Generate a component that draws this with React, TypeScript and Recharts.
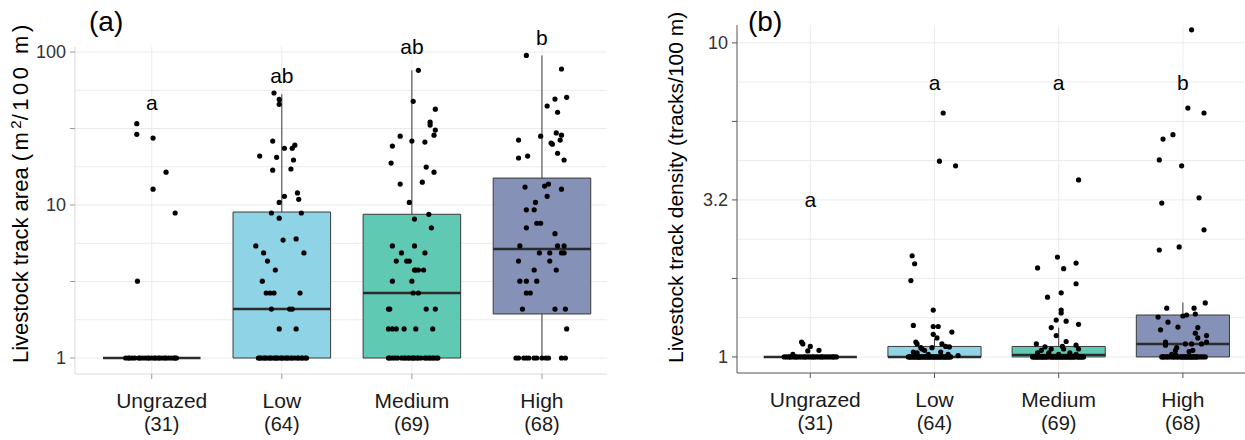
import React from "react";
import {
  ComposedChart,
  XAxis,
  YAxis,
  CartesianGrid,
  Scatter,
  ReferenceArea,
  ReferenceLine,
  ReferenceDot,
} from "recharts";

const CATEGORIES = ["Ungrazed", "Low", "Medium", "High"];
const COUNTS = [31, 64, 69, 68];
const BOX_COLORS = ["#BDBDBD", "#8FD3E6", "#5FC9B4", "#8591B6"];

// (a) livestock track area: box stats
const AREA_LETTERS = ["a", "ab", "ab", "b"];
const AREA_LETTER_Y = [41.8, 62.7, 97, 111];
const AREA_LOW = [1, 1, 1, 1];
const AREA_Q1 = [1, 1, 1, 1.94];
const AREA_MEDIAN = [1, 2.09, 2.66, 5.16];
const AREA_Q3 = [1, 9.0, 8.7, 15];
const AREA_HIGH = [1, 53, 76, 95];

// jittered points: [offset from category, value]
const areaUngrazed: [number, number][] = [
  [-0.115, 34], [-0.115, 29], [0.01, 27.4], [0.11, 16.4], [0.01, 12.7], [0.18, 8.87], [-0.11, 3.18],
  [-0.2, 1], [-0.18, 1], [-0.17, 1], [-0.15, 1], [-0.13, 1], [-0.1, 1], [-0.09, 1], [-0.07, 1],
  [-0.05, 1], [-0.03, 1], [-0.02, 1], [0.0, 1], [0.02, 1], [0.03, 1], [0.05, 1], [0.06, 1],
  [0.08, 1], [0.1, 1], [0.11, 1], [0.13, 1], [0.15, 1], [0.17, 1], [0.18, 1], [0.19, 1],
];
const areaLow: [number, number][] = [
  [-0.06, 54], [-0.02, 49], [-0.02, 45.5], [-0.07, 26.2], [0.02, 23.5], [0.08, 23.5], [0.1, 24.6],
  [-0.17, 20.9], [-0.04, 20.5], [0.09, 19.7], [-0.07, 16.9], [0.07, 17.2], [0.02, 11.4], [-0.02, 10.4],
  [0.12, 12], [0.13, 10.9], [-0.08, 8.87], [-0.02, 8.2], [0.15, 8.87], [-0.2, 5.4], [-0.14, 4.86],
  [0.01, 5.9], [0.11, 6], [0.17, 4.86], [-0.11, 4.3], [-0.05, 3.76], [-0.15, 3.18], [-0.12, 2.66],
  [-0.09, 2.66], [-0.06, 2.66], [0.14, 2.66], [-0.08, 2.09], [0.06, 2.09], [0.08, 2.09], [-0.02, 1.55],
  [0.11, 1.55],
  [-0.18, 1], [-0.17, 1], [-0.16, 1], [-0.14, 1], [-0.13, 1], [-0.12, 1], [-0.1, 1], [-0.09, 1],
  [-0.08, 1], [-0.06, 1], [-0.05, 1], [-0.04, 1], [-0.03, 1], [-0.01, 1], [0.0, 1], [0.01, 1],
  [0.03, 1], [0.04, 1], [0.05, 1], [0.07, 1], [0.08, 1], [0.1, 1], [0.12, 1], [0.13, 1],
  [0.15, 1], [0.16, 1], [0.18, 1], [0.19, 1],
];
const areaMedium: [number, number][] = [
  [0.05, 76], [0.01, 47.6], [0.18, 42.3], [0.14, 34.8], [0.14, 33.3], [0.18, 30.9], [0.17, 28.6],
  [-0.09, 28.2], [-0.15, 24.3], [0.0, 26.2], [0.1, 25.8], [-0.16, 18.8], [0.11, 17.7], [0.17, 16.4],
  [-0.09, 13.7], [0.08, 14.1], [-0.02, 10.4], [0.13, 8.7], [0.02, 8.1], [0.15, 7.1], [-0.15, 5.4],
  [0.02, 5.4], [-0.08, 4.86], [0.1, 4.86], [-0.12, 4.3], [-0.04, 4.3], [-0.02, 4.3], [0.02, 3.76],
  [0.03, 3.76], [0.05, 3.76], [0.09, 3.76], [-0.15, 3.18], [0.0, 3.18], [0.01, 2.66], [0.05, 2.66],
  [-0.18, 2.09], [-0.17, 2.09], [0.11, 2.09], [0.18, 2.09], [-0.18, 1.55], [-0.15, 1.55],
  [-0.12, 1.55], [-0.06, 1.55], [0.03, 1.55], [0.16, 1.55],
  [-0.18, 1], [-0.17, 1], [-0.15, 1], [-0.13, 1], [-0.11, 1], [-0.08, 1], [-0.06, 1], [-0.05, 1],
  [-0.03, 1], [-0.02, 1], [0.0, 1], [0.01, 1], [0.02, 1], [0.04, 1], [0.05, 1], [0.07, 1],
  [0.1, 1], [0.11, 1], [0.13, 1], [0.14, 1], [0.16, 1], [0.17, 1], [0.19, 1], [0.2, 1],
];
const areaHigh: [number, number][] = [
  [-0.12, 95], [0.15, 77.5], [0.19, 50.6], [0.1, 49.3], [0.04, 44.4], [0.12, 40.4], [-0.01, 28.2],
  [-0.18, 26.6], [0.11, 29.6], [0.15, 28.6], [0.14, 26.6], [0.07, 25.4], [0.08, 25], [-0.18, 20.3],
  [-0.11, 20.9], [0.12, 21.8], [0.17, 19.7], [-0.13, 13.1], [0.02, 13.3], [0.05, 13.7], [0.15, 12.7],
  [0.04, 11.4], [-0.05, 10.4], [-0.12, 9.3], [-0.06, 9.3], [-0.04, 7.6], [-0.01, 7.6], [-0.12, 7.1],
  [0.1, 6.5], [-0.17, 5.4], [0.12, 5.4], [0.17, 5.4], [-0.02, 4.86], [0.06, 4.86], [0.15, 4.86],
  [0.17, 4.86], [-0.18, 4.3], [0.06, 4.3], [-0.06, 3.76], [0.11, 3.76], [-0.17, 3.18], [-0.12, 3.18],
  [-0.04, 3.18], [-0.12, 2.66], [-0.09, 2.66], [-0.15, 2.09], [0.1, 2.09], [0.18, 2.09], [0.19, 1.55],
  [-0.2, 1], [-0.18, 1], [-0.14, 1], [-0.12, 1], [-0.1, 1], [-0.06, 1], [-0.04, 1], [0.0, 1],
  [0.03, 1], [0.05, 1], [0.15, 1], [0.18, 1],
];

// (b) livestock track density
const DENSITY_LETTERS = ["a", "a", "a", "b"];
const DENSITY_LETTER_Y = [3.0, 7.1, 7.1, 7.1];
const DENSITY_LOW = [1, 1, 1, 1];
const DENSITY_Q1 = [1, 1, 1, 1];
const DENSITY_MEDIAN = [1, 1, 1.015, 1.1];
const DENSITY_Q3 = [1, 1.08, 1.08, 1.36];
const DENSITY_HIGH = [1, 1.14, 1.24, 1.49];

const densityUngrazed: [number, number][] = [
  [-0.07, 1.116], [-0.06, 1.1], [0.0, 1.08], [-0.02, 1.045], [0.07, 1.05], [-0.14, 1.02],
  [-0.21, 1], [-0.19, 1], [-0.17, 1], [-0.16, 1], [-0.14, 1], [-0.12, 1], [-0.11, 1], [-0.09, 1],
  [-0.07, 1], [-0.05, 1], [-0.04, 1], [-0.02, 1], [0.0, 1], [0.02, 1], [0.03, 1], [0.05, 1],
  [0.07, 1], [0.09, 1], [0.1, 1], [0.12, 1], [0.14, 1], [0.16, 1], [0.18, 1], [0.19, 1], [0.21, 1],
];
const densityLow: [number, number][] = [
  [0.07, 5.98], [0.04, 4.2], [0.17, 4.06], [-0.18, 2.1], [-0.16, 1.98], [-0.19, 1.75], [-0.01, 1.41],
  [-0.17, 1.26], [-0.01, 1.25], [0.03, 1.25], [0.14, 1.2], [-0.01, 1.18], [0.02, 1.15], [-0.15, 1.116],
  [-0.14, 1.1], [0.06, 1.1], [0.09, 1.08], [0.12, 1.076], [-0.11, 1.07], [-0.02, 1.07], [-0.08, 1.05],
  [-0.1, 1.06], [-0.17, 1.037], [0.05, 1.037], [-0.14, 1.03], [-0.05, 1.02], [0.11, 1.02], [0.19, 1.01],
  [-0.21, 1], [-0.2, 1], [-0.19, 1], [-0.18, 1], [-0.17, 1], [-0.16, 1], [-0.15, 1], [-0.14, 1],
  [-0.13, 1], [-0.12, 1], [-0.11, 1], [-0.1, 1], [-0.09, 1], [-0.08, 1], [-0.07, 1], [-0.06, 1],
  [-0.05, 1], [-0.04, 1], [-0.03, 1], [-0.02, 1], [-0.01, 1], [0.0, 1], [0.01, 1], [0.02, 1],
  [0.03, 1], [0.04, 1], [0.05, 1], [0.06, 1], [0.07, 1], [0.08, 1], [0.09, 1], [0.1, 1],
  [0.11, 1], [0.12, 1], [0.13, 1], [-0.125, 1],
];
const densityMedium: [number, number][] = [
  [0.16, 3.66], [-0.01, 2.08], [-0.17, 1.92], [0.14, 1.99], [0.04, 1.91], [0.14, 1.71], [0.02, 1.6],
  [-0.09, 1.55], [0.02, 1.41], [0.02, 1.38], [-0.02, 1.31], [0.06, 1.3], [0.16, 1.27], [-0.06, 1.24],
  [-0.02, 1.17], [0.06, 1.12], [-0.18, 1.1], [0.14, 1.09], [0.03, 1.08], [-0.11, 1.076], [-0.14, 1.05],
  [-0.06, 1.06], [0.04, 1.06], [0.16, 1.06], [-0.17, 1.03], [0.09, 1.03], [-0.08, 1.03], [0.0, 1.02],
  [0.14, 1.02],
  [-0.21, 1], [-0.2, 1], [-0.19, 1], [-0.18, 1], [-0.17, 1], [-0.16, 1], [-0.15, 1], [-0.13, 1],
  [-0.12, 1], [-0.11, 1], [-0.1, 1], [-0.09, 1], [-0.07, 1], [-0.06, 1], [-0.05, 1], [-0.04, 1],
  [-0.03, 1], [-0.02, 1], [-0.01, 1], [0.0, 1], [0.01, 1], [0.02, 1], [0.03, 1], [0.05, 1],
  [0.06, 1], [0.07, 1], [0.08, 1], [0.09, 1], [0.1, 1], [0.11, 1], [0.12, 1], [0.13, 1],
  [0.15, 1], [0.16, 1], [0.17, 1], [0.18, 1], [0.19, 1], [0.2, 1], [-0.14, 1], [0.04, 1],
];
const densityHigh: [number, number][] = [
  [0.07, 11.0], [0.04, 6.2], [0.17, 5.98], [-0.08, 5.1], [-0.16, 4.94], [-0.19, 4.24], [-0.01, 4.06],
  [-0.17, 3.09], [0.13, 3.21], [0.17, 2.54], [-0.19, 2.19], [-0.03, 2.24], [0.18, 1.486],
  [-0.13, 1.43], [0.09, 1.43], [-0.2, 1.34], [0.0, 1.35], [0.03, 1.36], [0.1, 1.37], [-0.12, 1.29],
  [-0.04, 1.245], [0.12, 1.24], [-0.18, 1.22], [0.1, 1.19], [0.12, 1.15], [0.19, 1.17], [0.19, 1.116],
  [-0.14, 1.116], [-0.14, 1.09], [0.02, 1.1], [0.07, 1.1], [0.15, 1.1], [-0.05, 1.07], [-0.06, 1.05],
  [0.08, 1.05], [0.05, 1.04], [-0.09, 1.02], [-0.06, 1.02],
  [-0.17, 1], [-0.16, 1], [-0.15, 1], [-0.13, 1], [-0.12, 1], [-0.1, 1], [-0.08, 1], [-0.07, 1],
  [-0.05, 1], [-0.04, 1], [-0.02, 1], [-0.01, 1], [0.0, 1], [0.01, 1], [0.02, 1], [0.03, 1],
  [0.04, 1], [0.05, 1], [0.06, 1], [0.07, 1], [0.08, 1], [0.09, 1], [0.1, 1], [0.11, 1],
  [0.12, 1], [0.14, 1], [0.16, 1], [0.18, 1],
];

// axis breaks
const AREA_TICKS = [1, 3.162, 10, 31.62, 100];
const AREA_TICK_LABELS = ["1", "", "10", "", "100"];
const AREA_GRID = [1, 1.778, 3.162, 5.623, 10, 17.78, 31.62, 56.23, 100];
const DENSITY_TICKS = [1, 1.778, 3.162, 5.623, 10];
const DENSITY_TICK_LABELS = ["1", "", "3.2", "", "10"];
const DENSITY_GRID = [1, 1.334, 1.778, 2.371, 3.162, 4.217, 5.623, 7.499, 10];

const FONT = "'Liberation Sans', Arial, Helvetica, sans-serif";
const BOX_HALF = 0.375;

const toPoints = (groups: [number, number][][]) =>
  groups.flatMap((g, i) => g.map(([dx, v]) => ({ x: i + 1 + dx, y: v })));

const CategoryTick = (props: any) => {
  const { x, y, payload, shift = 0 } = props;
  const i = Math.round(payload.value) - 1;
  const dx = i === 0 ? shift : 0;
  return (
    <g>
      <text x={x + dx} y={y + 29} textAnchor="middle" fontSize={21} fill="#1a1a1a">
        {CATEGORIES[i]}
      </text>
      <text x={x + dx} y={y + 52} textAnchor="middle" fontSize={20} fill="#1a1a1a">
        ({COUNTS[i]})
      </text>
    </g>
  );
};

const Dot = (props: any) => <circle cx={props.cx} cy={props.cy} r={2.6} fill="#000" />;

interface PanelProps {
  width: number;
  top: number;
  right: number;
  yAxisWidth: number;
  xAxisHeight: number;
  yDomain: [number, number];
  ticks: number[];
  tickLabels: string[];
  grid: number[];
  points: { x: number; y: number }[];
  low: number[];
  q1: number[];
  median: number[];
  q3: number[];
  high: number[];
  letters: string[];
  letterY: number[];
  axisColor: string;
  tickColor: string;
  firstShift: number;
}

const BoxPanel = (p: PanelProps) => (
  <ComposedChart
    width={p.width}
    height={440}
    margin={{ top: p.top, right: p.right, bottom: 0, left: 0 }}
  >
    <CartesianGrid
      horizontalValues={p.grid}
      verticalValues={[1, 2, 3, 4]}
      stroke="#EBEBEB"
      strokeWidth={1}
    />
    <XAxis
      type="number"
      dataKey="x"
      domain={[0.41, 4.5]}
      allowDataOverflow
      ticks={[1, 2, 3, 4]}
      height={p.xAxisHeight}
      tickSize={5}
      tickMargin={0}
      axisLine={{ stroke: p.axisColor }}
      tickLine={{ stroke: p.tickColor }}
      tick={<CategoryTick shift={p.firstShift} />}
    />
    <YAxis
      type="number"
      dataKey="y"
      scale="log"
      domain={p.yDomain}
      allowDataOverflow
      ticks={p.ticks}
      tickFormatter={(v: number) => p.tickLabels[p.ticks.indexOf(v)] ?? ""}
      width={p.yAxisWidth}
      tickSize={5}
      tickMargin={4}
      axisLine={{ stroke: p.axisColor }}
      tickLine={{ stroke: p.tickColor }}
      tick={{ fontSize: 18, fill: "#333" }}
    />
    {CATEGORIES.map((_, i) => (
      <ReferenceArea
        key={`box${i}`}
        x1={i + 1 - BOX_HALF}
        x2={i + 1 + BOX_HALF}
        y1={p.q1[i]}
        y2={p.q3[i]}
        fill={BOX_COLORS[i]}
        fillOpacity={1}
        stroke="#3a3a3a"
        strokeWidth={1}
      />
    ))}
    {CATEGORIES.map((_, i) => (
      <ReferenceLine
        key={`wh${i}`}
        segment={[
          { x: i + 1, y: p.q3[i] },
          { x: i + 1, y: p.high[i] },
        ]}
        stroke="#3a3a3a"
        strokeWidth={1}
      />
    ))}
    {CATEGORIES.map((_, i) => (
      <ReferenceLine
        key={`wl${i}`}
        segment={[
          { x: i + 1, y: p.low[i] },
          { x: i + 1, y: p.q1[i] },
        ]}
        stroke="#3a3a3a"
        strokeWidth={1}
      />
    ))}
    {CATEGORIES.map((_, i) => (
      <ReferenceLine
        key={`med${i}`}
        segment={[
          { x: i + 1 - BOX_HALF, y: p.median[i] },
          { x: i + 1 + BOX_HALF, y: p.median[i] },
        ]}
        stroke="#2b2b2b"
        strokeWidth={2.4}
      />
    ))}
    <Scatter data={p.points} shape={Dot} isAnimationActive={false} />
    {p.letters.map((l, i) => (
      <ReferenceDot
        key={`let${i}`}
        x={i + 1}
        y={p.letterY[i]}
        ifOverflow="visible"
        shape={(d: any) => (
          <text x={d.cx} y={d.cy} textAnchor="middle" fontSize={21} fill="#000">
            {l}
          </text>
        )}
      />
    ))}
  </ComposedChart>
);

export default function App() {
  const areaPoints = toPoints([areaUngrazed, areaLow, areaMedium, areaHigh]);
  const densityPoints = toPoints([densityUngrazed, densityLow, densityMedium, densityHigh]);
  return (
    <div
      style={{
        position: "absolute",
        left: 0,
        top: 0,
        width: 1245,
        height: 440,
        background: "#fff",
        fontFamily: FONT,
        overflow: "hidden",
      }}
    >
      <div style={{ position: "absolute", left: 0, top: 0 }}>
        <BoxPanel
          width={620}
          top={47}
          right={13}
          yAxisWidth={75}
          xAxisHeight={66}
          yDomain={[0.786, 107.9]}
          ticks={AREA_TICKS}
          tickLabels={AREA_TICK_LABELS}
          grid={AREA_GRID}
          points={areaPoints}
          low={AREA_LOW}
          q1={AREA_Q1}
          median={AREA_MEDIAN}
          q3={AREA_Q3}
          high={AREA_HIGH}
          letters={AREA_LETTERS}
          letterY={AREA_LETTER_Y}
          axisColor="#DADADA"
          tickColor="#9A9A9A"
          firstShift={10}
        />
      </div>
      <div style={{ position: "absolute", left: 620, top: 0 }}>
        <BoxPanel
          width={625}
          top={25}
          right={0}
          yAxisWidth={117}
          xAxisHeight={67}
          yDomain={[0.889, 11.4]}
          ticks={DENSITY_TICKS}
          tickLabels={DENSITY_TICK_LABELS}
          grid={DENSITY_GRID}
          points={densityPoints}
          low={DENSITY_LOW}
          q1={DENSITY_Q1}
          median={DENSITY_MEDIAN}
          q3={DENSITY_Q3}
          high={DENSITY_HIGH}
          letters={DENSITY_LETTERS}
          letterY={DENSITY_LETTER_Y}
          axisColor="#555"
          tickColor="#555"
          firstShift={5}
        />
      </div>
      <svg
        width={1245}
        height={440}
        style={{ position: "absolute", left: 0, top: 0, pointerEvents: "none" }}
      >
        <text x={89} y={31} fontSize={28} fill="#000">(a)</text>
        <text x={748} y={31} fontSize={28} fill="#000">(b)</text>
        <text transform="translate(28,363) rotate(-90)" fontSize={22} fill="#000">
          Livestock track area
          <tspan dx={6} letterSpacing={3.5}>(m</tspan>
          <tspan dy={-7} fontSize={15}>2</tspan>
          <tspan dy={7} letterSpacing={3.5}>/100 m)</tspan>
        </text>
        <text transform="translate(683,363) rotate(-90)" fontSize={21} fill="#000">
          Livestock track density (tracks/100 m)
        </text>
      </svg>
    </div>
  );
}
